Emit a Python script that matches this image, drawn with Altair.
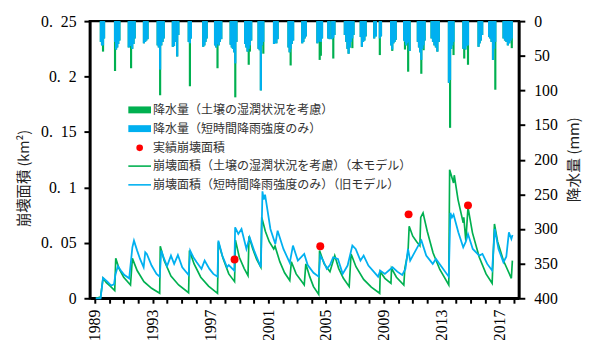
import altair as alt
import pandas as pd

# ---------------- data ----------------
# rainfall bars: year, short-term-intensity (blue) mm, soil-moisture (green) mm
rain_year = [
    1989.42, 1989.50, 1989.57, 1989.64,
    1990.40, 1990.47, 1990.55, 1990.62, 1990.70,
    1991.35, 1991.43, 1991.51, 1991.59, 1991.68, 1991.76,
    1992.40, 1992.48, 1992.56, 1992.65,
    1993.35, 1993.43, 1993.52, 1993.60, 1993.69, 1993.77,
    1994.40, 1994.48, 1994.56, 1994.70, 1994.78,
    1995.50, 1995.58, 1995.65,
    1996.50, 1996.58, 1996.66, 1996.74,
    1997.32, 1997.40, 1997.49, 1997.57, 1997.65, 1997.75,
    1998.40, 1998.48, 1998.56, 1998.64, 1998.72, 1998.80,
    1999.40, 1999.48, 1999.57, 1999.65, 1999.73, 1999.82,
    2000.33, 2000.41, 2000.49, 2000.57, 2000.66,
    2001.40, 2001.48, 2001.56, 2001.65,
    2002.40, 2002.48, 2002.55, 2002.63, 2002.72,
    2003.35, 2003.43, 2003.52, 2003.60,
    2004.40, 2004.48, 2004.56, 2004.64, 2004.72,
    2005.15, 2005.25, 2005.42, 2005.50, 2005.58,
    2006.30, 2006.40, 2006.48, 2006.56, 2006.65, 2006.73, 2006.82, 2006.90,
    2007.40, 2007.48, 2007.56, 2007.65, 2007.74,
    2008.33, 2008.45, 2008.72, 2008.80,
    2009.50, 2009.58, 2009.66, 2009.74, 2009.82,
    2010.40, 2010.46, 2010.54, 2010.62, 2010.68, 2010.78,
    2011.35, 2011.43, 2011.51, 2011.59, 2011.67, 2011.75, 2011.82,
    2012.30, 2012.40, 2012.50, 2012.60, 2012.70, 2012.80,
    2013.50, 2013.58, 2013.66, 2013.74, 2013.82,
    2014.50, 2014.56, 2014.64, 2014.72, 2014.82,
    2015.55, 2015.63, 2015.71, 2015.80,
    2016.28, 2016.36, 2016.45, 2016.55, 2016.63, 2016.71,
    2017.28, 2017.38, 2017.48, 2017.58, 2017.68, 2017.78, 2017.85,
]
rain_blue = [
    30, 35, 35, 25,
    30, 41, 38, 33, 28,
    38, 36, 35, 40, 33, 25,
    32, 30, 28, 26,
    35, 38, 70, 35, 30, 25,
    37, 36, 30, 51, 20,
    30, 32, 25,
    37, 35, 30, 25,
    35, 38, 33, 35, 30, 26,
    34, 38, 40, 45, 61, 30,
    33, 38, 44, 40, 35, 28,
    40, 42, 100, 35, 30,
    33, 30, 32, 26,
    38, 45, 40, 33, 28,
    32, 30, 25, 22,
    32, 30, 28, 30, 25,
    25, 26, 26, 24, 20,
    20, 30, 40, 47, 38, 30, 25, 20,
    23, 37, 30, 28, 22,
    25, 22, 25, 22,
    35, 41, 32, 30, 27,
    28, 30, 35, 32, 30, 43,
    30, 38, 45, 56, 40, 35, 28,
    25, 30, 35, 38, 44, 30,
    89, 85, 40, 35, 30,
    40, 38, 41, 36, 35,
    37, 32, 28, 20,
    23, 25, 30, 56, 40, 30,
    25, 28, 30, 35, 32, 28, 25,
]
rain_green = [
    30, 35, 44, 25,
    72, 41, 38, 33, 28,
    38, 36, 68, 40, 33, 25,
    32, 30, 28, 26,
    35, 38, 107, 35, 30, 25,
    37, 36, 30, 51, 20,
    30, 94, 25,
    37, 35, 30, 25,
    35, 38, 68, 35, 30, 26,
    34, 38, 40, 45, 110, 30,
    33, 38, 44, 63, 44, 28,
    40, 42, 100, 35, 47,
    33, 30, 32, 26,
    38, 45, 64, 33, 28,
    32, 30, 25, 22,
    32, 30, 56, 50, 25,
    25, 26, 26, 54, 20,
    20, 30, 40, 47, 38, 30, 39, 20,
    23, 37, 30, 28, 22,
    25, 22, 49, 22,
    35, 43, 32, 30, 27,
    28, 41, 35, 32, 73, 43,
    30, 38, 45, 76, 40, 42, 28,
    25, 30, 35, 38, 44, 30,
    89, 154, 40, 35, 49,
    40, 54, 41, 36, 63,
    37, 32, 28, 20,
    23, 25, 30, 56, 40, 99,
    25, 28, 30, 35, 32, 28, 39,
]

# landslide area, new model (soil moisture) - green
green_year = [
    1989.07, 1989.40, 1989.57, 1989.80, 1990.07, 1990.38, 1990.45, 1990.67, 1991.00, 1991.47,
    1991.60, 1991.93, 1992.40, 1992.93, 1993.49, 1993.53, 1993.80, 1994.27, 1994.80, 1995.49,
    1995.55, 1995.87, 1996.33, 1996.87, 1997.49, 1997.55, 1997.87, 1998.27, 1998.67, 1998.73,
    1999.00, 1999.33, 1999.60, 1999.67, 1999.93, 2000.20, 2000.49, 2000.55, 2000.80, 2001.07,
    2001.38, 2001.47, 2001.80, 2002.13, 2002.49, 2002.60, 2002.93, 2003.27, 2003.49, 2003.60,
    2003.87, 2004.13, 2004.49, 2004.55, 2004.87, 2005.27, 2005.60, 2005.87, 2006.20, 2006.60,
    2006.73, 2007.07, 2007.60, 2008.13, 2008.71, 2008.75, 2009.07, 2009.49, 2009.53, 2009.87,
    2010.38, 2010.45, 2010.67, 2010.75, 2011.00, 2011.27, 2011.49, 2011.55, 2011.71, 2012.00,
    2012.40, 2012.87, 2013.49, 2013.55, 2013.82, 2013.87, 2014.13, 2014.49, 2014.53, 2014.67,
    2014.82, 2015.13, 2015.60, 2016.07, 2016.49, 2016.65, 2016.87, 2017.27, 2017.82, 2017.89,
]
green_area = [
    0.000, 0.001, 0.018, 0.014, 0.011, 0.007, 0.036, 0.027, 0.019, 0.012,
    0.036, 0.025, 0.015, 0.009, 0.0045, 0.047, 0.034, 0.020, 0.012, 0.005,
    0.043, 0.031, 0.019, 0.011, 0.0045, 0.0505, 0.036, 0.022, 0.015, 0.0525,
    0.037, 0.027, 0.0205, 0.056, 0.0445, 0.035, 0.028, 0.073, 0.0605, 0.051,
    0.0445, 0.047, 0.033, 0.023, 0.016, 0.033, 0.022, 0.016, 0.012, 0.031,
    0.0195, 0.0105, 0.0035, 0.043, 0.031, 0.024, 0.0385, 0.027, 0.018, 0.0105,
    0.040, 0.0285, 0.017, 0.010, 0.0045, 0.024, 0.018, 0.0135, 0.027, 0.019,
    0.012, 0.027, 0.0415, 0.065, 0.056, 0.051, 0.0475, 0.073, 0.077, 0.0605,
    0.041, 0.026, 0.012, 0.116, 0.104, 0.111, 0.089, 0.068, 0.073, 0.052,
    0.082, 0.059, 0.037, 0.022, 0.0135, 0.067, 0.051, 0.034, 0.018, 0.034,
]

# landslide area, old model (short-term intensity only) - blue
blue_year = [
    1989.07, 1989.40, 1989.57, 1989.87, 1990.13, 1990.33, 1990.43, 1990.60, 1990.80, 1991.05,
    1991.38, 1991.60, 1991.71, 1991.93, 1992.13, 1992.38, 1992.49, 1992.60, 1992.93, 1993.27,
    1993.49, 1993.60, 1993.80, 1994.00, 1994.27, 1994.49, 1994.75, 1995.05, 1995.49, 1995.60,
    1995.82, 1996.05, 1996.38, 1996.60, 1996.93, 1997.20, 1997.49, 1997.55, 1997.82, 1998.15,
    1998.27, 1998.65, 1998.71, 1998.93, 1999.15, 1999.49, 1999.71, 2000.05, 2000.49, 2000.60,
    2000.69, 2000.78, 2001.15, 2001.49, 2001.65, 2002.05, 2002.49, 2002.71, 2003.05, 2003.49,
    2003.73, 2004.13, 2004.49, 2004.60, 2004.80, 2005.05, 2005.27, 2005.49, 2005.82, 2006.15,
    2006.49, 2006.82, 2007.05, 2007.38, 2007.60, 2007.93, 2008.60, 2008.75, 2009.07, 2009.60,
    2009.93, 2010.27, 2010.49, 2010.67, 2010.82, 2011.07, 2011.38, 2011.60, 2011.93, 2012.38,
    2012.60, 2012.93, 2013.49, 2013.60, 2013.71, 2013.82, 2014.15, 2014.49, 2014.67, 2014.82,
    2015.15, 2015.60, 2015.82, 2016.15, 2016.49, 2016.67, 2016.93, 2017.27, 2017.47, 2017.65,
    2017.82, 2017.90,
]
blue_area = [
    0.000, 0.000, 0.0185, 0.015, 0.0115, 0.0125, 0.0215, 0.029, 0.025, 0.021,
    0.018, 0.046, 0.052, 0.043, 0.0355, 0.028, 0.0415, 0.040, 0.0295, 0.022,
    0.0195, 0.043, 0.0355, 0.029, 0.0385, 0.031, 0.039, 0.028, 0.021, 0.043,
    0.037, 0.0325, 0.0265, 0.034, 0.0265, 0.022, 0.0195, 0.052, 0.0385, 0.028,
    0.030, 0.025, 0.064, 0.058, 0.0625, 0.0445, 0.055, 0.042, 0.028, 0.0965,
    0.089, 0.0935, 0.0625, 0.049, 0.061, 0.0445, 0.032, 0.0475, 0.034, 0.040,
    0.030, 0.023, 0.0195, 0.0385, 0.034, 0.0265, 0.030, 0.037, 0.0355, 0.022,
    0.0295, 0.0475, 0.0445, 0.034, 0.0385, 0.0295, 0.0195, 0.025, 0.022, 0.028,
    0.024, 0.021, 0.0265, 0.0445, 0.034, 0.040, 0.0475, 0.052, 0.0385, 0.031,
    0.0355, 0.0295, 0.0195, 0.077, 0.073, 0.0755, 0.0595, 0.046, 0.051, 0.058,
    0.0445, 0.0385, 0.040, 0.031, 0.025, 0.0625, 0.0445, 0.0325, 0.0375, 0.0595,
    0.0535, 0.057,
]

# observed landslide area
obs_year = [1998.67, 2004.60, 2010.71, 2014.82]
obs_area = [0.035, 0.047, 0.0757, 0.0838]

legend_labels = [
    "降水量（土壌の湿潤状況を考慮）",
    "降水量（短時間降雨強度のみ）",
    "実績崩壊面積",
    "崩壊面積（土壌の湿潤状況を考慮）（本モデル）",
    "崩壊面積（短時間降雨強度のみ）（旧モデル）",
]

x_ticks = list(range(1989, 2019))
left_ticks = [0, 0.05, 0.1, 0.15, 0.2, 0.25]
right_ticks = [0, 50, 100, 150, 200, 250, 300, 350, 400]

# ---------------- styling ----------------
GREEN = "#00B050"
BLUE = "#00B0F0"
RED = "#FF0000"
NUM_FONT = "Liberation Serif"
JP_FONT = "Noto Sans CJK JP"

rain_df = pd.DataFrame({"year": rain_year, "blue": rain_blue, "green": rain_green})
green_df = pd.DataFrame({"year": green_year, "area": green_area})
blue_df = pd.DataFrame({"year": blue_year, "area": blue_area})
obs_df = pd.DataFrame({"year": obs_year, "area": obs_area})

x_scale = alt.Scale(domain=[1989, 2018], nice=False, zero=False)
x_axis = alt.Axis(
    values=x_ticks, format="d",
    labelExpr="(datum.value - 1989) % 4 == 0 ? datum.label : ''",
    labelAngle=270, labelAlign="right", labelBaseline="middle",
    labelFont=NUM_FONT, labelFontSize=16, labelColor="#000", labelPadding=6,
    tickColor="#000", tickWidth=2, tickSize=5,
    domainColor="#000", domainWidth=2.5, grid=False, title="",
)

rain_scale = alt.Scale(domain=[0, 400], reverse=True, nice=False)
right_axis = alt.Axis(
    orient="right", values=right_ticks, format="d",
    labelFont=NUM_FONT, labelFontSize=16, labelColor="#000", labelPadding=9,
    tickColor="#000", tickWidth=2, tickSize=6,
    domainColor="#000", domainWidth=2.5, grid=False,
    title="降水量 (mm)", titleFont=JP_FONT, titleFontSize=15, titleFontWeight="normal",
    titleColor="#222", titleAngle=270, titleX=55, titleY=140,
    titleAlign="center", titleBaseline="middle",
)

area_scale = alt.Scale(domain=[0, 0.25], nice=False)
left_axis = alt.Axis(
    orient="left", values=left_ticks, format=".2~f",
    labelExpr="datum.value == 0 ? '0' : replace(datum.label, '.', '.\u2002')",
    labelFont=NUM_FONT, labelFontSize=16, labelColor="#000", labelPadding=8,
    tickColor="#000", tickWidth=2, tickSize=6,
    domainColor="#000", domainWidth=2.5, grid=False,
    title="崩壊面積 (km²)", titleFont=JP_FONT, titleFontSize=14.5, titleFontWeight="normal",
    titleColor="#222", titleAngle=270, titleX=-66, titleY=159,
    titleAlign="center", titleBaseline="middle",
)

green_bars = alt.Chart(rain_df).mark_bar(size=2.2, color=GREEN).encode(
    x=alt.X("year:Q", scale=x_scale, axis=x_axis),
    y=alt.Y("green:Q", scale=rain_scale, axis=right_axis, stack=None),
)
blue_bars = alt.Chart(rain_df).mark_bar(size=2.2, color=BLUE).encode(
    x=alt.X("year:Q", scale=x_scale, axis=x_axis),
    y=alt.Y("blue:Q", scale=rain_scale, axis=None, stack=None),
)
green_line = alt.Chart(green_df).mark_line(color=GREEN, strokeWidth=1.7).encode(
    x=alt.X("year:Q", scale=x_scale, axis=x_axis),
    y=alt.Y("area:Q", scale=area_scale, axis=left_axis),
    order="year:Q",
)
blue_line = alt.Chart(blue_df).mark_line(color=BLUE, strokeWidth=1.8).encode(
    x=alt.X("year:Q", scale=x_scale, axis=x_axis),
    y=alt.Y("area:Q", scale=area_scale, axis=None),
    order="year:Q",
)
obs_points = alt.Chart(obs_df).mark_circle(color=RED, size=65, opacity=1).encode(
    x=alt.X("year:Q", scale=x_scale, axis=x_axis),
    y=alt.Y("area:Q", scale=area_scale, axis=None),
)

# ---------------- custom legend ----------------
LX0, LX1, LTX = 39, 62, 64
LY = [90, 109, 128.5, 147, 166]


def one(label):
    return pd.DataFrame({"t": [label]})


leg_layers = [
    alt.Chart(one(legend_labels[0])).mark_rule(color=GREEN, strokeWidth=7).encode(
        x=alt.value(LX0), x2=alt.value(LX1), y=alt.value(LY[0])),
    alt.Chart(one(legend_labels[1])).mark_rule(color=BLUE, strokeWidth=7).encode(
        x=alt.value(LX0), x2=alt.value(LX1), y=alt.value(LY[1])),
    alt.Chart(one(legend_labels[2])).mark_circle(color=RED, size=45, opacity=1).encode(
        x=alt.value((LX0 + LX1) / 2), y=alt.value(LY[2])),
    alt.Chart(one(legend_labels[3])).mark_rule(color=GREEN, strokeWidth=1.6).encode(
        x=alt.value(LX0), x2=alt.value(LX1), y=alt.value(LY[3])),
    alt.Chart(one(legend_labels[4])).mark_rule(color=BLUE, strokeWidth=1.6).encode(
        x=alt.value(LX0), x2=alt.value(LX1), y=alt.value(LY[4])),
]
for i, lab in enumerate(legend_labels):
    leg_layers.append(alt.Chart(one(lab)).mark_text(
        align="left", baseline="middle", font=JP_FONT, fontSize=12.2, color="#333"
    ).encode(x=alt.value(LTX), y=alt.value(LY[i]), text="t:N"))

chart = alt.layer(
    green_bars, blue_bars, green_line, blue_line, obs_points, *leg_layers
).resolve_scale(
    y="independent"
).properties(
    width=435, height=281,
    autosize=alt.AutoSizeParams(type="none"),
    padding={"left": 83, "top": 11, "right": 65, "bottom": 40},
).configure_view(
    stroke="#000", strokeWidth=2.5
)

chart.save("out.html", embed_options={"renderer": "svg", "actions": False})
